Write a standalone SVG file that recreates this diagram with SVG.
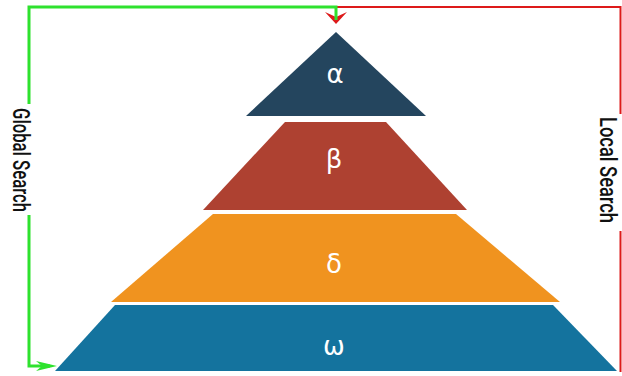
<svg xmlns="http://www.w3.org/2000/svg" width="622" height="376" viewBox="0 0 622 376">
<style>
.lbl{font-family:"DejaVu Sans","Noto Sans",sans-serif;font-size:26px;fill:#ffffff;text-anchor:middle}
.side{font-family:"Roboto","Liberation Sans",sans-serif;font-size:24px;font-weight:500;fill:#111111;text-anchor:middle}
.g{fill:none;stroke:#2ee22e;stroke-width:3}
.r{fill:none;stroke:#dd1a1a;stroke-width:2}
</style>
<defs>
<marker id="ar" viewBox="0 0 12 22" refX="8" refY="11" markerWidth="12" markerHeight="22" markerUnits="userSpaceOnUse" orient="auto">
<path d="M0,0 L12,11 L0,22 L5,11 Z" fill="#dd1a1a"/>
</marker>
<marker id="ag" viewBox="0 0 21 10" refX="14" refY="5" markerWidth="21" markerHeight="10" markerUnits="userSpaceOnUse" orient="auto">
<path d="M0,0 L21,5 L0,10 L6,5 Z" fill="#2ee22e"/>
</marker>
</defs>
<rect width="622" height="376" fill="#ffffff"/>
<g id="connectors">
<path class="r" d="M620.5,372 V231 M620.5,114 V7 H336 V20" marker-end="url(#ar)"/>
<path class="g" d="M336,20 V7 H29 V104 M29,215 V366 H50" marker-end="url(#ag)"/>
</g>
<g id="alpha">
<polygon points="336,32 426,116 246,116" fill="#24455e"/>
<text class="lbl" x="335" y="83">α</text>
</g>
<g id="beta">
<polygon points="285,122 386,122 467,210 203,210" fill="#ae4131"/>
<text class="lbl" x="334" y="168">β</text>
</g>
<g id="delta">
<polygon points="213,214 456,214 560,302 111,302" fill="#f0931f"/>
<text class="lbl" x="334" y="273">δ</text>
</g>
<g id="omega">
<polygon points="115,305 553,305 617,371 55,371" fill="#14739e"/>
<text class="lbl" x="334" y="355">ω</text>
</g>
<g id="global-search">
<text class="side" transform="translate(13,160) rotate(90)" x="0" y="0" textLength="104" lengthAdjust="spacingAndGlyphs">Global Search</text>
</g>
<g id="local-search">
<text class="side" transform="translate(600,170) rotate(90)" x="0" y="0" textLength="106" lengthAdjust="spacingAndGlyphs">Local Search</text>
</g>
</svg>
